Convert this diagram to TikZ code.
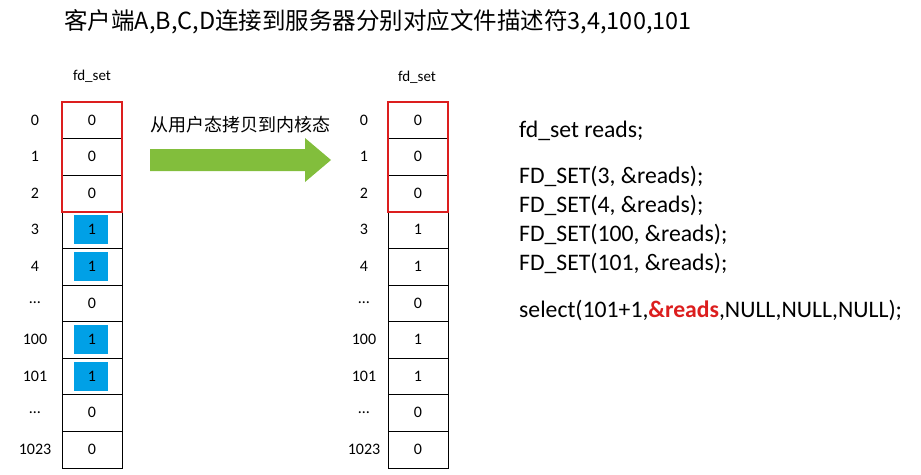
\documentclass[tikz,border=0pt]{standalone}
\usepackage{fontspec}
\setmainfont{Carlito}
\newfontfamily\cjk{Noto Sans CJK SC}
\usetikzlibrary{positioning}
\definecolor{bitblue}{RGB}{0,160,230}
\definecolor{boxred}{RGB}{220,30,30}
\definecolor{arrowgreen}{RGB}{130,190,60}
\tikzstyle{cell}=[draw=black,minimum width=60pt,minimum height=36.6pt,inner sep=0pt,font=\fontsize{16}{16}\selectfont]
\tikzstyle{idx}=[font=\fontsize{16}{16}\selectfont,anchor=center]
\tikzstyle{setbit}=[fill=bitblue,inner sep=0pt,minimum width=34pt,minimum height=29pt]
\tikzstyle{code}=[anchor=west,font=\fontsize{23.7}{23.7}\selectfont,inner sep=0pt]

\begin{document}
\begin{tikzpicture}[x=1pt,y=-1pt]
			\useasboundingbox (0,0) rectangle (921,474);
			\node (title) at (378,22) {\cjk\fontsize{23.5}{23.5}\selectfont 客户端A,B,C,D连接到服务器分别对应文件描述符3,4,100,101};

			% left fd_set
			\node (lname) at (92,76) [font=\fontsize{15}{15}\selectfont] {fd\_set};
			\foreach \i/\l/\v/\b in {0/0/0/0,1/1/0/0,2/2/0/0,3/3/1/1,4/4/1/1,5/…/0/0,6/100/1/1,7/101/1/1,8/…/0/0,9/1023/0/0} {
				\ifnum\b=1 \node (lb\i) at (91,120+36.6*\i) [setbit] {}; \fi
				\node (l\i) at (92,120+36.6*\i) [cell] {\v};
				\node (li\i) at (35,120+36.6*\i) [idx] {\l};
			}
			\draw [boxred,line width=2pt] (l0.north west) rectangle (l2.south east);

			% arrow
			\node (copy) at (240,125) {\cjk\fontsize{18}{18}\selectfont 从用户态拷贝到内核态};
			\fill [arrowgreen] (150,149)--(305,149)--(305,138)--(331,160)--(305,182)--(305,171)--(150,171)--cycle;

			% right fd_set
			\node (rname) at (417,77) [font=\fontsize{15}{15}\selectfont] {fd\_set};
			\foreach \i/\l/\v in {0/0/0,1/1/0,2/2/0,3/3/1,4/4/1,5/…/0,6/100/1,7/101/1,8/…/0,9/1023/0} {
				\node (r\i) at (418,120+36.6*\i) [cell] {\v};
				\node (ri\i) at (364,120+36.6*\i) [idx] {\l};
			}
			\draw [boxred,line width=2pt] (r0.north west) rectangle (r2.south east);

			% code
			\node (c0) at (519,131) [code] {fd\_set reads;};
			\node (c1) at (519,176) [code] {FD\_SET(3, \&reads);};
			\node (c2) at (519,205) [code] {FD\_SET(4, \&reads);};
			\node (c3) at (519,234) [code] {FD\_SET(100, \&reads);};
			\node (c4) at (519,263) [code] {FD\_SET(101, \&reads);};
			\node (c5) at (519,310) [code] {select(101+1,\textcolor{boxred}{\textbf{\&reads}},NULL,NULL,NULL);};
		\end{tikzpicture}
\end{document}
